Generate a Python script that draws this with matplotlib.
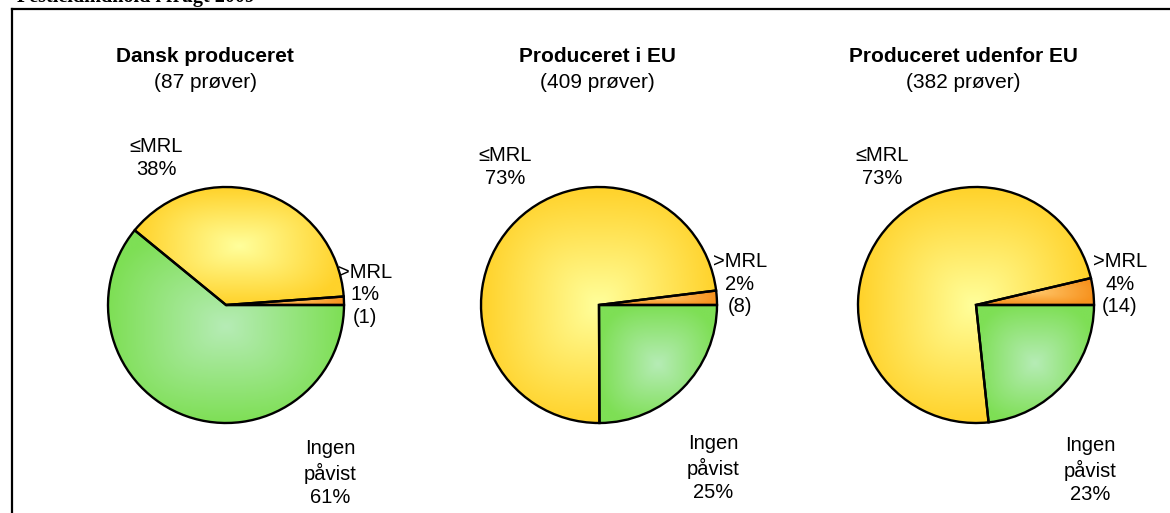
import numpy as np
import matplotlib
matplotlib.use("Agg")
import matplotlib.pyplot as plt
from matplotlib.colors import to_rgb

# data
groups = ["Dansk produceret", "Produceret i EU", "Produceret udenfor EU"]
n_samples = [87, 409, 382]
# counts per slice: >MRL, <=MRL, Ingen påvist
over_mrl = [1, 8, 14]
under_mrl = [33, 299, 279]
not_found = [53, 102, 89]
pct_over = ["1%", "2%", "4%"]
pct_under = ["38%", "73%", "73%"]
pct_none = ["61%", "25%", "23%"]

W, H = 1170, 513
fig = plt.figure(figsize=(W / 100, H / 100), dpi=100)
ax = fig.add_axes([0, 0, 1, 1])

# pixel layout (y measured from the top)
centers_x = [226, 599, 976]
center_y = 305
radius = 118
title_x = [205, 597, 963]

# gradient colours: (edge, centre)
grad = [("#F7921E", "#FFC76A"),   # >MRL
        ("#FFD22A", "#FFFF9C"),   # <=MRL
        ("#7EDF55", "#B6ECB6")]   # ingen påvist

font = "Liberation Sans"


def fill_gradient(wedge, c_edge, c_mid):
    th = np.radians(np.linspace(wedge.theta1, wedge.theta2, 200))
    cx, cy = wedge.center
    xs = np.concatenate([[cx], cx + wedge.r * np.cos(th)])
    ys = np.concatenate([[cy], cy + wedge.r * np.sin(th)])
    x0, x1, y0, y1 = xs.min(), xs.max(), ys.min(), ys.max()
    u, v = np.meshgrid(np.linspace(-1, 1, 200), np.linspace(-1, 1, 200))
    t = np.clip((np.abs(u) ** 3 + np.abs(v) ** 3) ** (1 / 3), 0, 1)
    e, m = np.array(to_rgb(c_edge)), np.array(to_rgb(c_mid))
    img = m * (1 - t[..., None]) + e * t[..., None]
    im = ax.imshow(img, extent=(x0, x1, y0, y1), origin="lower",
                   interpolation="bilinear", zorder=1)
    im.set_clip_path(wedge)


for i in range(3):
    vals = [over_mrl[i], under_mrl[i], not_found[i]]
    wedges, _ = ax.pie(vals, center=(centers_x[i], H - center_y), radius=radius,
                       startangle=0, counterclock=True, frame=True,
                       colors=[g[0] for g in grad],
                       wedgeprops=dict(edgecolor="black", linewidth=1.7))
    for w, (ce, cm) in zip(wedges, grad):
        fill_gradient(w, ce, cm)
        w.set_facecolor("none")
        w.set_zorder(2)

    ax.text(title_x[i], H - 57, groups[i], ha="center", va="center",
            fontsize=15, fontweight="bold", family=font)
    ax.text(title_x[i], H - 83, f"({n_samples[i]} prøver)", ha="center",
            va="center", fontsize=15, family=font)

# slice labels (pixel positions, y from top)
lab_under = [(156, 158), (505, 167), (882, 167)]
lab_over = [(365, 295), (740, 284), (1120, 284)]
lab_none = [(330, 473), (713, 468), (1090, 470)]
for i in range(3):
    x, y = lab_under[i]
    ax.text(x, H - y, f"≤MRL\n{pct_under[i]}", ha="center", va="center",
            fontsize=14.5, family=font, linespacing=1.25)
    x, y = lab_over[i]
    ax.text(x, H - y, f">MRL\n{pct_over[i]}\n({over_mrl[i]})", ha="center",
            va="center", fontsize=14.5, family=font, linespacing=1.25)
    x, y = lab_none[i]
    ax.text(x, H - y, f"Ingen\npåvist\n{pct_none[i]}", ha="center",
            va="center", fontsize=14.5, family=font, linespacing=1.25)

# frame (cut at right and bottom) and the clipped header
ax.plot([11.5, W + 5], [H - 9, H - 9], color="black", lw=1.6, clip_on=False)
ax.plot([11.5, 11.5], [H - 9, -5], color="black", lw=1.6, clip_on=False)
fig.text(17 / W, 1 - 2 / H, "Pesticidindhold i frugt 2009", ha="left",
         va="baseline", fontsize=14.5, fontweight="bold", family="Liberation Serif")

ax.set_xlim(0, W)
ax.set_ylim(0, H)
ax.set_aspect("equal")
ax.axis("off")

fig.savefig("out.png", dpi=100)
